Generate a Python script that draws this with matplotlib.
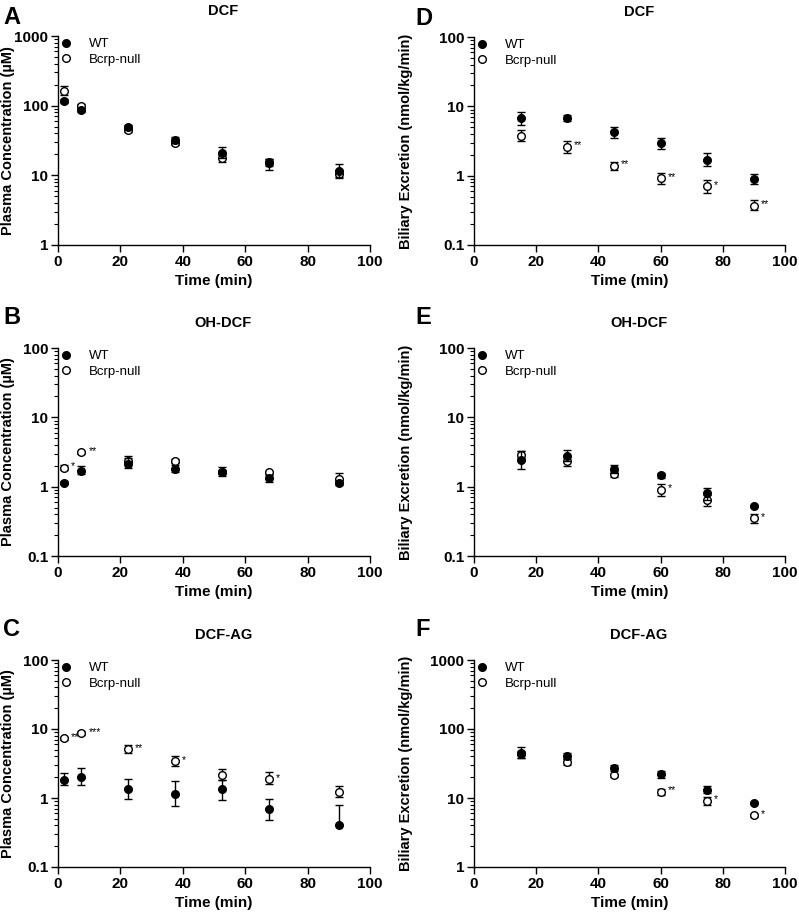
import matplotlib
matplotlib.use("Agg")
import matplotlib.pyplot as plt
from matplotlib.lines import Line2D
from matplotlib.ticker import LogLocator, NullFormatter, FixedLocator

plt.rcParams['font.family'] = ['Liberation Sans', 'DejaVu Sans']

# plasma sampling times and bile collection times (min)
t_plasma = [2, 7.5, 22.5, 37.5, 52.5, 67.5, 90]
t_bile = [15, 30, 45, 60, 75, 90]

# A: DCF plasma
a_wt = [116, 88, 49, 32.5, 21, 14.8, 11.4]
a_wt_lo = [8, 6, 3, 3, 3.5, 2.8, 2.0]
a_wt_hi = [8, 6, 3, 3.5, 4.5, 2.5, 3.2]
a_ko = [162, 98, 44.5, 29.5, 17.5, 15.4, 10.4]
a_ko_lo = [20, 6, 3, 2, 1.8, 1.8, 1.2]
a_ko_hi = [28, 6, 3, 2, 1.8, 1.8, 1.5]
a_sig = ['', '', '', '', '', '', '']

# B: OH-DCF plasma
b_wt = [1.14, 1.70, 2.12, 1.82, 1.62, 1.33, 1.14]
b_wt_lo = [0.05, 0.2, 0.28, 0.17, 0.2, 0.15, 0.08]
b_wt_hi = [0.05, 0.28, 0.45, 0.2, 0.28, 0.15, 0.08]
b_ko = [1.88, 3.12, 2.32, 2.36, 1.62, 1.62, 1.30]
b_ko_lo = [0.15, 0.12, 0.2, 0.15, 0.1, 0.08, 0.12]
b_ko_hi = [0.15, 0.12, 0.42, 0.15, 0.1, 0.08, 0.28]
b_sig = ['*', '**', '', '', '', '', '']

# C: DCF-AG plasma
c_wt = [1.84, 2.04, 1.36, 1.15, 1.36, 0.70, 0.41]
c_wt_lo = [0.3, 0.5, 0.4, 0.39, 0.42, 0.22, 0.0]
c_wt_hi = [0.45, 0.66, 0.52, 0.6, 0.48, 0.28, 0.38]
c_ko = [7.3, 8.7, 5.1, 3.4, 2.17, 1.88, 1.24]
c_ko_lo = [0.3, 0.6, 0.6, 0.5, 0.33, 0.28, 0.19]
c_ko_hi = [0.3, 0.6, 0.8, 0.6, 0.43, 0.47, 0.26]
c_sig = ['***', '***', '**', '*', '', '*', '']

# D: DCF bile
d_wt = [6.7, 6.9, 4.2, 2.94, 1.70, 0.89]
d_wt_lo = [1.4, 0.7, 0.65, 0.5, 0.3, 0.12]
d_wt_hi = [1.7, 0.7, 0.9, 0.6, 0.4, 0.15]
d_ko = [3.75, 2.6, 1.39, 0.92, 0.70, 0.37]
d_ko_lo = [0.6, 0.48, 0.2, 0.15, 0.13, 0.05]
d_ko_hi = [0.75, 0.55, 0.2, 0.18, 0.16, 0.07]
d_sig = ['', '**', '**', '**', '*', '**']

# E: OH-DCF bile
e_wt = [2.44, 2.78, 1.79, 1.45, 0.80, 0.53]
e_wt_lo = [0.62, 0.4, 0.2, 0.12, 0.15, 0.02]
e_wt_hi = [0.8, 0.6, 0.25, 0.12, 0.15, 0.02]
e_ko = [2.85, 2.31, 1.51, 0.90, 0.64, 0.35]
e_ko_lo = [0.3, 0.3, 0.15, 0.16, 0.11, 0.05]
e_ko_hi = [0.4, 0.45, 0.15, 0.18, 0.12, 0.06]
e_sig = ['', '', '', '*', '', '*']

# F: DCF-AG bile
f_wt = [45.5, 40.5, 27.5, 22.2, 13.2, 8.4]
f_wt_lo = [7, 4, 2.5, 2.5, 1.3, 0.3]
f_wt_hi = [9, 4, 2.5, 2.5, 1.5, 0.3]
f_ko = [43.5, 33.5, 21.2, 12.4, 9.1, 5.6]
f_ko_lo = [5, 3, 1.2, 1.3, 1.2, 0.3]
f_ko_hi = [5, 3, 1.2, 1.3, 1.4, 0.3]
f_sig = ['', '', '', '**', '*', '*']

plasma_label = 'Plasma Concentration (\u00b5M)'
bile_label = 'Biliary Excretion (nmol/kg/min)'

panels = [
    # letter, title, x, wt, lo, hi, ko, lo, hi, sig, ylim, ylabel, rect (px), label x
    ('A', 'DCF', t_plasma, a_wt, a_wt_lo, a_wt_hi, a_ko, a_ko_lo, a_ko_hi, a_sig,
     (1, 1000), plasma_label, [58, 36, 312, 209], -0.138),
    ('B', 'OH-DCF', t_plasma, b_wt, b_wt_lo, b_wt_hi, b_ko, b_ko_lo, b_ko_hi, b_sig,
     (0.1, 100), plasma_label, [58, 348, 312, 208], -0.138),
    ('C', 'DCF-AG', t_plasma, c_wt, c_wt_lo, c_wt_hi, c_ko, c_ko_lo, c_ko_hi, c_sig,
     (0.1, 100), plasma_label, [58, 660, 312, 207], -0.138),
    ('D', 'DCF', t_bile, d_wt, d_wt_lo, d_wt_hi, d_ko, d_ko_lo, d_ko_hi, d_sig,
     (0.1, 100), bile_label, [474, 37, 311, 208], -0.196),
    ('E', 'OH-DCF', t_bile, e_wt, e_wt_lo, e_wt_hi, e_ko, e_ko_lo, e_ko_hi, e_sig,
     (0.1, 100), bile_label, [474, 348, 311, 208], -0.196),
    ('F', 'DCF-AG', t_bile, f_wt, f_wt_lo, f_wt_hi, f_ko, f_ko_lo, f_ko_hi, f_sig,
     (1, 1000), bile_label, [474, 660, 311, 207], -0.196),
]

W, H = 799, 919
fig = plt.figure(figsize=(W / 100, H / 100), dpi=100)

for (letter, title, x, wt, wlo, whi, ko, klo, khi, sig, ylim, ylabel, r, lx) in panels:
    left, top, w, h = r
    ax = fig.add_axes([left / W, 1 - (top + h) / H, w / W, h / H])
    ax.set_yscale('log')

    ax.errorbar(x, ko, yerr=[klo, khi], fmt='o', ms=5.5, mfc='white', mec='black',
                mew=1.0, ecolor='black', elinewidth=1.0, capsize=3, capthick=1.0, zorder=3)
    ax.errorbar(x, wt, yerr=[wlo, whi], fmt='o', ms=5.5, mfc='black', mec='black',
                mew=1.0, ecolor='black', elinewidth=1.0, capsize=3, capthick=1.0, zorder=4)
    for xi, yi, s in zip(x, ko, sig):
        if s:
            ax.annotate(s, (xi, yi), xytext=(5, 1), textcoords='offset points',
                        fontsize=7.5, ha='left', va='center', zorder=2)

    ax.set_xlim(0, 100)
    ax.set_ylim(*ylim)
    ax.xaxis.set_major_locator(FixedLocator([0, 20, 40, 60, 80, 100]))
    ax.yaxis.set_major_locator(LogLocator(base=10, numticks=10))
    ax.yaxis.set_minor_locator(LogLocator(base=10, subs=range(2, 10), numticks=10))
    ax.yaxis.set_minor_formatter(NullFormatter())
    ax.yaxis.set_major_formatter(plt.FuncFormatter(lambda v, p: f'{v:g}'))
    for lab in ax.get_xticklabels() + ax.get_yticklabels():
        lab.set_fontweight('bold')
    ax.tick_params(axis='both', which='major', length=5, width=1.0, labelsize=11, pad=2)
    ax.tick_params(axis='y', which='minor', length=3, width=0.8)
    for side in ('top', 'right'):
        ax.spines[side].set_visible(False)
    for side in ('left', 'bottom'):
        ax.spines[side].set_linewidth(1.0)

    ax.set_xlabel('Time (min)', fontsize=11, fontweight='bold', labelpad=4)
    ax.set_ylabel(ylabel, fontsize=10.5, fontweight='bold')
    ax.yaxis.set_label_coords(lx, 0.5)
    ax.set_title(title, fontsize=10.5, fontweight='bold', x=0.53, pad=15)
    fig.text(3 / W if left < 400 else 415 / W,
             1 - (top - (30 if letter in 'AD' else 42)) / H,
             letter, fontsize=17, fontweight='bold', ha='left', va='top')

    handles = [
        Line2D([], [], ls='none', marker='o', ms=5.5, mfc='black', mec='black'),
        Line2D([], [], ls='none', marker='o', ms=5.5, mfc='white', mec='black'),
    ]
    ax.legend(handles, ['WT', 'Bcrp-null'], loc='upper left', bbox_to_anchor=(-0.025, 1.035),
              frameon=False, fontsize=9.5, handlelength=1.0, handletextpad=1.2,
              labelspacing=0.25, borderpad=0.2)

fig.savefig('out.png', dpi=100)
